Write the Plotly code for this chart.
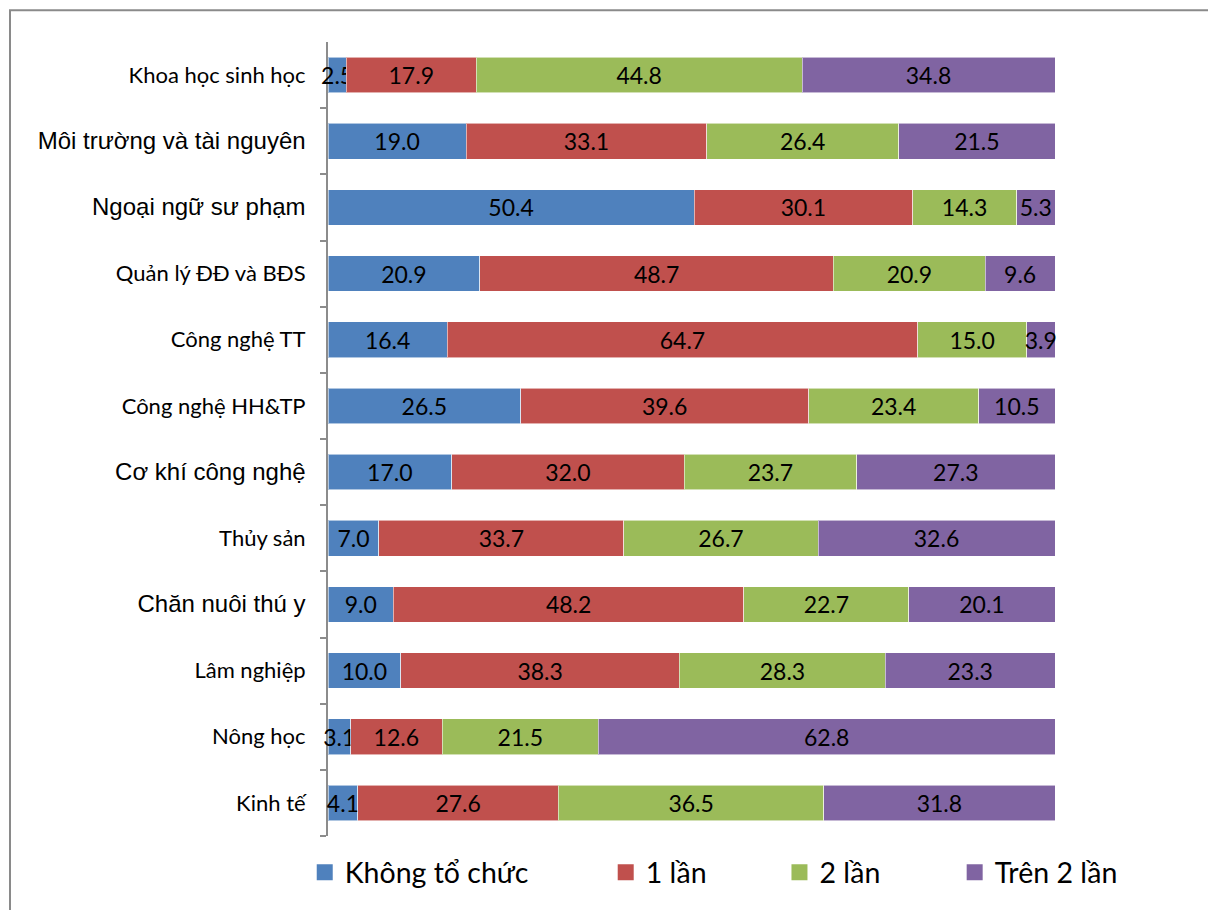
import plotly.graph_objects as go

# Faculties, listed top to bottom
categories = [
    "Khoa học sinh học", "Môi trường và tài nguyên", "Ngoại ngữ sư phạm",
    "Quản lý ĐĐ và BĐS", "Công nghệ TT", "Công nghệ HH&TP", "Cơ khí công nghệ",
    "Thủy sản", "Chăn nuôi thú y", "Lâm nghiệp", "Nông học", "Kinh tế",
]

# Share (%) of each response per faculty
khong_to_chuc = [2.5, 19.0, 50.4, 20.9, 16.4, 26.5, 17.0, 7.0, 9.0, 10.0, 3.1, 4.1]
mot_lan = [17.9, 33.1, 30.1, 48.7, 64.7, 39.6, 32.0, 33.7, 48.2, 38.3, 12.6, 27.6]
hai_lan = [44.8, 26.4, 14.3, 20.9, 15.0, 23.4, 23.7, 26.7, 22.7, 28.3, 21.5, 36.5]
tren_hai_lan = [34.8, 21.5, 5.3, 9.6, 3.9, 10.5, 27.3, 32.6, 20.1, 23.3, 62.8, 31.8]

series_names = ["Không tổ chức", "1 lần", "2 lần", "Trên 2 lần"]
series_values = [khong_to_chuc, mot_lan, hai_lan, tren_hai_lan]
series_colors = ["#4F81BD", "#C0504D", "#9BBB59", "#8064A2"]

# Faculties whose axis label is set in the larger sans face
large_labels = {"Môi trường và tài nguyên", "Ngoại ngữ sư phạm", "Cơ khí công nghệ", "Chăn nuôi thú y"}


def tick_label(name):
    safe = name.replace("&", "&amp;")
    if name in large_labels:
        return f'<span style="font-family:Arial;font-size:24px">{safe}</span>'
    return f'<span style="font-family:Lato;font-size:22px">{safe}</span>'


fig = go.Figure()

for name, vals, color in zip(series_names, series_values, series_colors):
    fig.add_trace(go.Bar(
        y=categories,
        x=vals,
        orientation="h",
        name=name,
        marker=dict(color=color, line=dict(color="rgba(255,255,255,0.55)", width=1)),
        text=[f"{v:.1f}" for v in vals],
        textposition="inside",
        insidetextanchor="middle",
        textangle=0,
        constraintext="none",
        insidetextfont=dict(family="Lato", size=23, color="#000000"),
        cliponaxis=False,
        showlegend=False,
        hoverinfo="skip",
    ))

# Legend entries, each in its own legend so they can sit at set positions
legend_x = [-0.032, 0.382, 0.621, 0.862]
for i, (name, color) in enumerate(zip(series_names, series_colors)):
    lg = "legend" if i == 0 else f"legend{i + 1}"
    fig.add_trace(go.Scatter(
        x=[None], y=[None], mode="markers", name=name,
        marker=dict(symbol="square", size=17, color=color),
        legend=lg, showlegend=True, hoverinfo="skip",
    ))
    fig.update_layout({lg: dict(
        x=legend_x[i], xanchor="left", y=-0.014, yanchor="top",
        orientation="h", font=dict(family="Lato", size=28.5, color="#000000"),
        bgcolor="rgba(0,0,0,0)", itemwidth=30,
    )})

axis_gray = "#8C8C8C"

fig.update_layout(
    width=1208, height=910,
    margin=dict(l=328, r=153, t=42, b=70),
    paper_bgcolor="white", plot_bgcolor="white",
    barmode="stack", barnorm="percent", bargap=0.46,
    font=dict(family="Lato", color="#000000"),
    xaxis=dict(range=[0, 100], visible=False, fixedrange=True),
    yaxis=dict(
        type="category",
        categoryorder="array", categoryarray=categories[::-1],
        tickmode="array", tickvals=categories,
        ticktext=[tick_label(c) for c in categories],
        tickson="boundaries", ticks="outside", ticklen=6, tickwidth=1.5,
        tickcolor=axis_gray, showline=True, linecolor=axis_gray, linewidth=2,
        showgrid=False, zeroline=False, ticklabelstandoff=16,
        layer="below traces",
        tickfont=dict(color="#000000", size=22, family="Lato"),
    ),
    shapes=[dict(
        type="rect", xref="paper", yref="paper",
        x0=(10 - 328) / 727, x1=(1230 - 328) / 727,
        y0=(840 - 930) / 798, y1=(840 - 10) / 798,
        line=dict(color="#8A8A8A", width=2), fillcolor="rgba(0,0,0,0)", layer="below",
    )],
)

fig.write_html("out.html")
